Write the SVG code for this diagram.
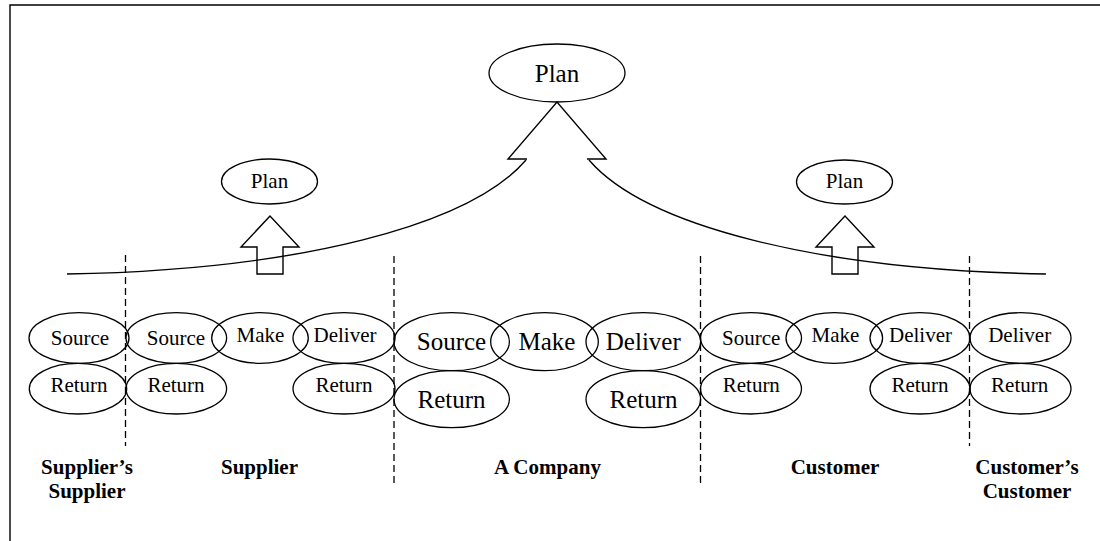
<svg xmlns="http://www.w3.org/2000/svg" width="1100" height="541" viewBox="0 0 1100 541" font-family="'Liberation Serif', 'DejaVu Serif', serif">
<style>
.e{fill:none;stroke:#000;stroke-width:1.3}
text{font-family:'Liberation Serif','DejaVu Serif',serif;text-anchor:middle;fill:#000}
.s{font-size:21px}
.b{font-size:25px}
.l{font-size:21px;font-weight:bold}
.d{fill:none;stroke:#000;stroke-width:1.3;stroke-dasharray:7,4}
.c{fill:none;stroke:#000;stroke-width:1.4}
</style>
<rect width="1100" height="541" fill="#fff"/>
<g id="frame"><path d="M10,541 V5 H1100" class="c"/></g>
<g id="connectors">
<path class="c" d="M67,274 C300,270 470,225 526,160"/>
<path class="c" d="M589,160 C645,225 815,270 1046,274"/>
<polyline class="c" points="527,159 508,159 557,102 606,159 587,159"/>
<polygon class="c" points="270,216 241,247 257,247 257,274 283,274 283,247 299,247"/>
<polygon class="c" points="845,216 816,247 832,247 832,274 858,274 858,247 874,247"/>
<line class="d" x1="125.5" y1="255" x2="125.5" y2="446"/>
<line class="d" x1="394" y1="256" x2="394" y2="485"/>
<line class="d" x1="700.5" y1="256" x2="700.5" y2="485"/>
<line class="d" x1="969.5" y1="256" x2="969.5" y2="446"/>
</g>
<g id="plan-main"><ellipse class="e" cx="557" cy="73" rx="68" ry="29"/><text class="b" x="557" y="82">Plan</text></g>
<g id="plan-supplier"><ellipse class="e" cx="269.5" cy="181.5" rx="48" ry="22.5"/><text class="s" x="269.5" y="188">Plan</text></g>
<g id="plan-customer"><ellipse class="e" cx="844.5" cy="182" rx="48" ry="22"/><text class="s" x="844.5" y="188">Plan</text></g>
<g id="ss-source"><ellipse class="e" cx="79" cy="338" rx="50" ry="25.3"/><text class="s" x="80" y="345">Source</text></g>
<g id="ss-return"><ellipse class="e" cx="78" cy="388.7" rx="48.7" ry="25.3"/><text class="s" x="79" y="392">Return</text></g>
<g id="sup-source"><ellipse class="e" cx="176.3" cy="338" rx="50.3" ry="25.3"/><text class="s" x="176" y="345">Source</text></g>
<g id="sup-make"><ellipse class="e" cx="260" cy="338" rx="48.3" ry="25.3"/><text class="s" x="260.5" y="342">Make</text></g>
<g id="sup-deliver"><ellipse class="e" cx="344" cy="338" rx="51" ry="25.3"/><text class="s" x="345" y="342">Deliver</text></g>
<g id="sup-return1"><ellipse class="e" cx="176.3" cy="388.7" rx="50.3" ry="25.3"/><text class="s" x="176" y="392">Return</text></g>
<g id="sup-return2"><ellipse class="e" cx="344" cy="388.7" rx="51" ry="25.3"/><text class="s" x="344" y="392">Return</text></g>
<g id="co-source"><ellipse class="e" cx="451.7" cy="341.7" rx="57.7" ry="29"/><text class="b" x="451.5" y="350">Source</text></g>
<g id="co-make"><ellipse class="e" cx="544.5" cy="341.7" rx="53.8" ry="29"/><text class="b" x="547" y="350">Make</text></g>
<g id="co-deliver"><ellipse class="e" cx="643.3" cy="341.7" rx="57.3" ry="29"/><text class="b" x="643.3" y="350">Deliver</text></g>
<g id="co-return1"><ellipse class="e" cx="451.7" cy="399.2" rx="57.7" ry="28.5"/><text class="b" x="451.5" y="407.5">Return</text></g>
<g id="co-return2"><ellipse class="e" cx="643.3" cy="399.2" rx="57.3" ry="28.5"/><text class="b" x="643.5" y="407.5">Return</text></g>
<g id="cu-source"><ellipse class="e" cx="751" cy="338" rx="50.5" ry="25.3"/><text class="s" x="751.2" y="345">Source</text></g>
<g id="cu-make"><ellipse class="e" cx="834.3" cy="338" rx="48.3" ry="25.3"/><text class="s" x="835.5" y="342">Make</text></g>
<g id="cu-deliver"><ellipse class="e" cx="920" cy="338" rx="50" ry="25.3"/><text class="s" x="920.5" y="342">Deliver</text></g>
<g id="cu-return1"><ellipse class="e" cx="751" cy="388.7" rx="50.5" ry="25.3"/><text class="s" x="751.3" y="392">Return</text></g>
<g id="cu-return2"><ellipse class="e" cx="920" cy="388.7" rx="50" ry="25.3"/><text class="s" x="920" y="392">Return</text></g>
<g id="cc-deliver"><ellipse class="e" cx="1020.5" cy="338" rx="50.5" ry="25.3"/><text class="s" x="1019.7" y="342">Deliver</text></g>
<g id="cc-return"><ellipse class="e" cx="1020.5" cy="388.7" rx="50.5" ry="25.3"/><text class="s" x="1019.7" y="392">Return</text></g>
<g id="labels">
<text class="l" x="87" y="474">Supplier’s</text>
<text class="l" x="87" y="498">Supplier</text>
<text class="l" x="259.5" y="474">Supplier</text>
<text class="l" x="547.5" y="474">A Company</text>
<text class="l" x="835" y="474">Customer</text>
<text class="l" x="1027" y="474">Customer’s</text>
<text class="l" x="1027" y="498">Customer</text>
</g>
</svg>
